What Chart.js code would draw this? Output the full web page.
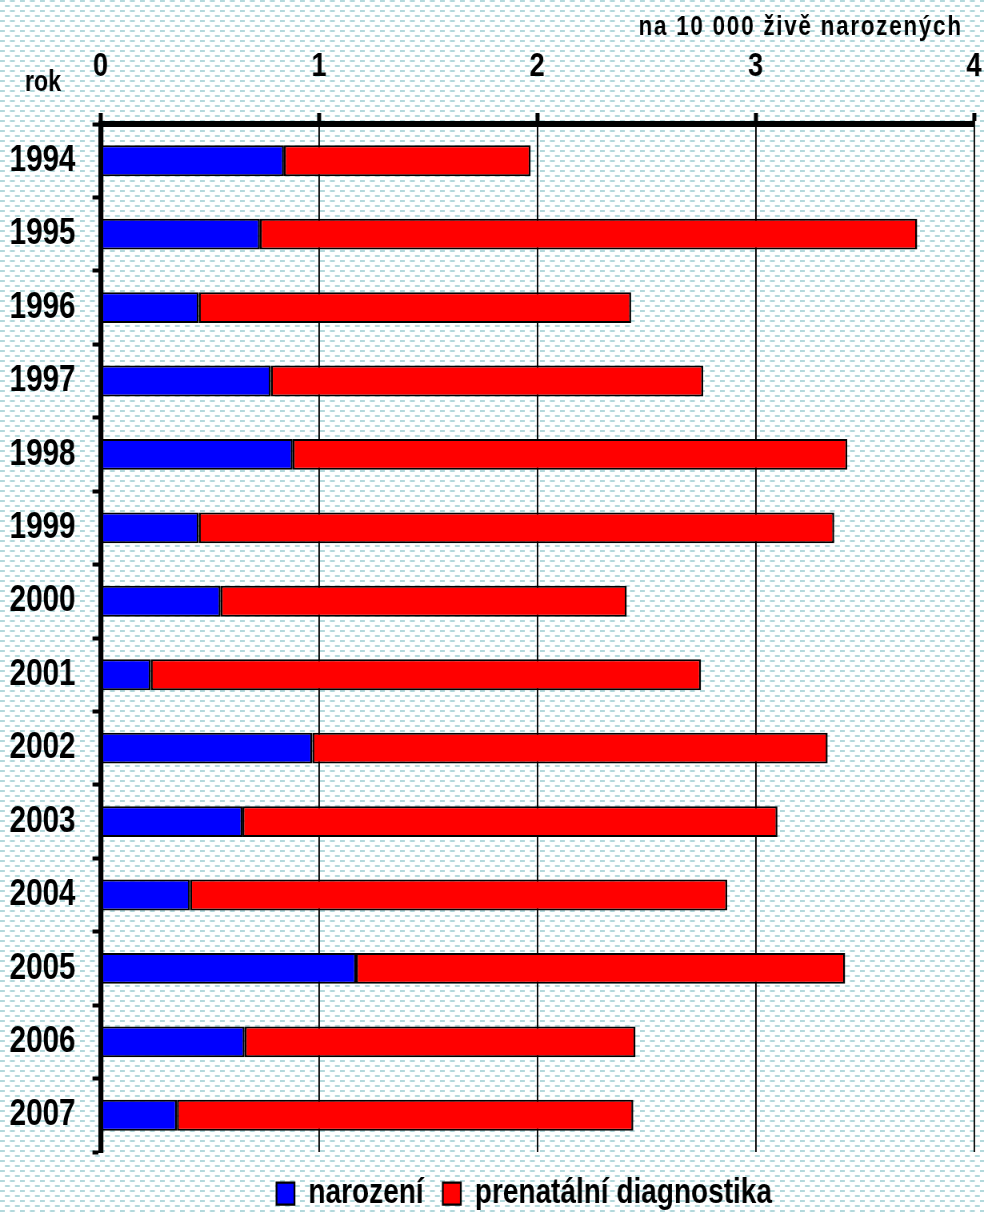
<!DOCTYPE html>
<html><head><meta charset="utf-8">
<script src="https://cdn.jsdelivr.net/npm/chart.js@4.4.1/dist/chart.umd.min.js"></script>
<style>
html,body{margin:0;padding:0;background:#fff;overflow:hidden}
#wrap{width:984px;height:1214px;overflow:hidden}
</style>
</head><body><div id="wrap"><canvas id="c" width="1230" height="1214" style="display:block;width:984px;height:1214px"></canvas></div>
<script>
// ---- data ----
const years = ['1994','1995','1996','1997','1998','1999','2000','2001','2002','2003','2004','2005','2006','2007'];
const narozeni = [0.84,0.73,0.45,0.78,0.88,0.45,0.55,0.23,0.97,0.65,0.41,1.17,0.66,0.35];
const prenatalni = [1.13,3.01,1.98,1.98,2.54,2.91,1.86,2.52,2.36,2.45,2.46,2.24,1.79,2.09];
const xTicks = [0,1,2,3,4];
const seriesNames = ['narození','prenatální diagnostika'];
const unitLabel = 'na 10 000 živě narozených';
const axisLabel = 'rok';

// The canvas bitmap is 1230 px wide and shown at 984 px (factor 0.8),
// which gives the condensed look of the original lettering.
const F = 0.8;
const X = v => v / F;   // screen px -> canvas px (horizontal only)
const FONT = '"Liberation Sans",Arial,sans-serif';

const bgPlugin = {
  id: 'bgPattern',
  beforeDraw(chart) {
    const t = document.createElement('canvas');
    t.width = 25; t.height = 10;
    const tc = t.getContext('2d');
    tc.fillStyle = '#ffffff'; tc.fillRect(0,0,25,10);
    tc.fillStyle = '#b3d9dc';
    tc.fillRect(0,0,6,2); tc.fillRect(12.5,0,6,2);
    tc.fillRect(6.25,5,6,2); tc.fillRect(18.75,5,6,2);
    const ctx = chart.ctx;
    ctx.save();
    ctx.fillStyle = ctx.createPattern(t, 'repeat');
    ctx.fillRect(0,0,chart.width,chart.height);
    ctx.restore();
  }
};

const textPlugin = {
  id: 'extraText',
  afterDraw(chart) {
    const ctx = chart.ctx;
    ctx.save();
    ctx.fillStyle = '#000';
    ctx.textBaseline = 'alphabetic';
    ctx.font = 'bold 29px ' + FONT;
    ctx.textAlign = 'left';
    ctx.fillText(axisLabel, X(25), 91);
    ctx.font = 'bold 28px ' + FONT;
    ctx.textAlign = 'right';
    let ls = 0;
    if ('letterSpacing' in ctx) { ls = 2.2; ctx.letterSpacing = ls + 'px'; }
    ctx.fillText(unitLabel, X(961) + ls, 35);
    ctx.restore();
  }
};

// shift the centred legend slightly left, as in the original
const legendShift = {
  id: 'legendShift',
  afterLayout(chart) {
    const lg = chart.legend;
    if (lg) { lg.left -= X(13); lg.right -= X(13); }
  }
};

const bw = { top: 2, bottom: 2, left: X(2), right: X(2) };

new Chart(document.getElementById('c'), {
  type: 'bar',
  data: {
    labels: years,
    datasets: [
      { label: seriesNames[0], data: narozeni, backgroundColor: '#0000ff', borderColor: '#000', borderWidth: bw, borderSkipped: false },
      { label: seriesNames[1], data: prenatalni, backgroundColor: '#ff0000', borderColor: '#000', borderWidth: bw, borderSkipped: false }
    ]
  },
  options: {
    indexAxis: 'y',
    responsive: false,
    animation: false,
    devicePixelRatio: 1,
    layout: { padding: { top: 0, right: X(10), bottom: 0, left: 0 } },
    datasets: { bar: { barPercentage: 0.42, categoryPercentage: 1 } },
    scales: {
      x: {
        type: 'linear', position: 'top', stacked: true, min: 0, max: 4,
        afterFit: s => { s.height = 124; s.paddingLeft = 0; s.paddingRight = 0; },
        afterBuildTicks: s => { s.ticks = xTicks.map(v => ({ value: v })); },
        grid: { color: '#000', lineWidth: X(1.5), tickLength: 11, tickWidth: X(4), tickColor: '#000' },
        border: { color: '#000', width: 6 },
        ticks: { padding: 26, color: '#000', font: { size: 34, weight: 'bold', family: FONT } }
      },
      y: {
        type: 'category', stacked: true,
        afterFit: s => { s.width = X(100.5); },
        grid: { offset: true, drawOnChartArea: false, tickLength: X(8), tickWidth: 4, tickColor: '#000' },
        border: { color: '#000', width: X(5) },
        ticks: { padding: X(17), color: '#000', font: { size: 37, weight: 'bold', family: FONT } }
      }
    },
    plugins: {
      tooltip: { enabled: false },
      legend: {
        position: 'bottom', fullSize: false, maxHeight: 62,
        labels: { boxWidth: X(18), boxHeight: 22, padding: 24, color: '#000', font: { size: 35, weight: 'bold', family: FONT } }
      }
    }
  },
  plugins: [bgPlugin, textPlugin, legendShift]
});
</script>
</body></html>
